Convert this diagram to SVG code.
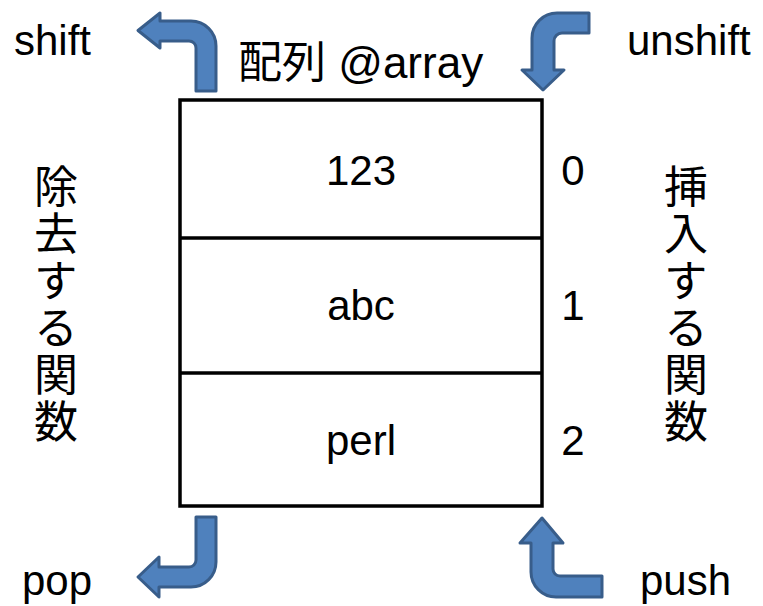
<svg xmlns="http://www.w3.org/2000/svg" width="763" height="606" viewBox="0 0 763 606">
<style>
.t{font-family:"Liberation Sans","Noto Sans CJK JP",sans-serif;font-size:42px;fill:#000}
.j{font-family:"Noto Sans CJK JP",sans-serif;font-size:44px;fill:#000;writing-mode:vertical-rl;letter-spacing:3px}
.c{text-anchor:middle}
.arr{fill:#4f81bd;stroke:#385d8a;stroke-width:3;stroke-linejoin:round}
.box{fill:#fff;stroke:#000;stroke-width:3.5}
</style>
<rect width="763" height="606" fill="#fff"/>
<g id="array">
<rect class="box" x="180" y="100" width="362" height="406"/>
<line x1="180" y1="238" x2="542" y2="238" stroke="#000" stroke-width="3.5"/>
<line x1="180" y1="373" x2="542" y2="373" stroke="#000" stroke-width="3.5"/>
<text class="t" x="238" y="78" style="font-size:44px">配列 @array</text>
</g>
<g id="cell0"><text class="t c" x="361" y="185">123</text><text class="t c" x="573" y="185">0</text></g>
<g id="cell1"><text class="t c" x="361" y="320">abc</text><text class="t c" x="573" y="320">1</text></g>
<g id="cell2"><text class="t c" x="361" y="455">perl</text><text class="t c" x="573" y="455">2</text></g>
<g id="remove-label"><text class="j" x="56" y="164">除去する関数</text></g>
<g id="insert-label"><text class="j" x="686" y="164">挿入する関数</text></g>
<g id="shift"><text class="t" x="14" y="55">shift</text></g>
<g id="unshift"><text class="t" x="627" y="55">unshift</text></g>
<g id="pop"><text class="t" x="22" y="595">pop</text></g>
<g id="push"><text class="t" x="640" y="595">push</text></g>
<g id="connectors">
<path class="arr" d="M196,91 L196,48 A7,7 0 0 0 189,41 L160,41 L160,48 L138,30.5 L160,13 L160,21 L191,21 A25,25 0 0 1 216,46 L216,91 Z"/>
<path class="arr" d="M589,13 L557,13 A25,25 0 0 0 532,38 L532,70 L522,70 L543,90 L564,70 L554,70 L554,41 A8,8 0 0 1 562,33 L589,33 Z"/>
<path class="arr" d="M196,517 L216,517 L216,562 A25,25 0 0 1 191,587 L159,587 L159,597 L138,577 L159,557 L159,567 L189,567 A7,7 0 0 0 196,560 Z"/>
<path class="arr" d="M542,518 L563,543 L553,543 L553,569 A7,7 0 0 0 560,576 L602,576 L602,597 L556,597 A25,25 0 0 1 531,572 L531,543 L520,543 Z"/>
</g>
</svg>
